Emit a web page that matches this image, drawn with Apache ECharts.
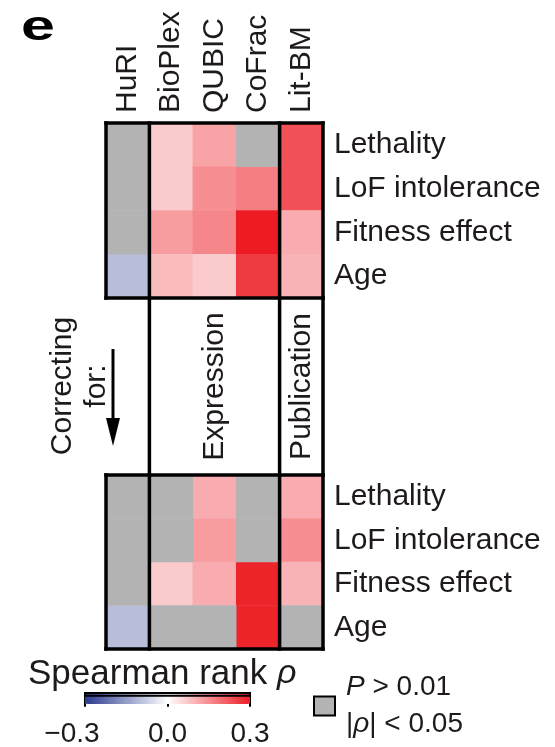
<!DOCTYPE html>
<html>
<head>
<meta charset="utf-8">
<script src="https://cdn.jsdelivr.net/npm/echarts@6/dist/echarts.min.js"></script>
<style>
  html, body { margin: 0; padding: 0; background: #fff; }
  #chart { width: 555px; height: 747px; }
</style>
</head>
<body>
<div id="chart"></div>
<script>
// networks (columns) and gene properties (rows)
var columns = ['HuRI', 'BioPlex', 'QUBIC', 'CoFrac', 'Lit-BM'];
var traits = ['Lethality', 'LoF intolerance', 'Fitness effect', 'Age'];
// Spearman rank rho, one row per trait; null = not significant (grey)
var rhoRaw = [
    [null, 0.07, 0.12, null, 0.23],
    [null, 0.07, 0.15, 0.17, 0.23],
    [null, 0.13, 0.16, 0.30, 0.11],
    [-0.10, 0.09, 0.07, 0.26, 0.10]
];
var rhoCorrected = [
    [null, null, 0.11, null, 0.11],
    [null, null, 0.13, null, 0.15],
    [null, 0.07, 0.11, 0.29, 0.10],
    [-0.10, null, null, 0.29, null]
];
// what was corrected for, by column span
var corrections = [
    {name: 'Expression', from: 1, to: 4},
    {name: 'Publication', from: 4, to: 5}
];
var groupEdges = [0, 1, 4, 5];
var scaleTicks = [-0.3, 0.0, 0.3];
var palette = ['#2b3a8f', '#ffffff', '#ed1c24'];
var greyCell = '#b3b3b3';
var nsName = 'not significant';

var font = 'Liberation Sans, Arial, Helvetica, sans-serif';
var ink = '#1e1a1b';

function cells(rho, sig) {
    var out = [];
    rho.forEach(function (row, r) {
        row.forEach(function (v, c) {
            if ((v !== null) === sig) out.push(sig ? [c, r, v] : [c, r, 1]);
        });
    });
    return out;
}

function segments(edges, closed) {
    var s = [];
    if (closed) {
        s.push([edges[0], 0, edges[edges.length - 1], 0]);
        s.push([edges[0], 1, edges[edges.length - 1], 1]);
    }
    edges.forEach(function (x) { s.push([x, 0, x, 1]); });
    return s;
}

function frame(idx, data) {
    return {
        type: 'custom', xAxisIndex: idx, yAxisIndex: idx, z: 10, silent: true,
        data: data,
        renderItem: function (params, api) {
            var a = api.coord([api.value(0), api.value(1)]);
            var b = api.coord([api.value(2), api.value(3)]);
            return {type: 'line', shape: {x1: a[0], y1: a[1], x2: b[0], y2: b[1]},
                style: {stroke: '#000', lineWidth: 3.5, lineCap: 'square'}};
        }
    };
}

var myChart = echarts.init(document.getElementById('chart'));

var hiddenX = {type: 'value', min: 0, max: 5, show: false};
var hiddenY = {type: 'value', min: 0, max: 1, show: false};

var option = {
    animation: false,
    backgroundColor: '#fff',
    grid: [
        {left: 106, top: 123, width: 217, height: 175},
        {left: 106, top: 298, width: 217, height: 177},
        {left: 106, top: 475, width: 217, height: 174},
        {left: 85, top: 693, width: 165, height: 11, show: true, z: 20,
            borderColor: '#000', borderWidth: 2, backgroundColor: 'transparent'}
    ],
    xAxis: [
        {type: 'category', gridIndex: 0, data: columns, position: 'top',
            axisLine: {show: false}, axisTick: {show: false},
            axisLabel: {rotate: 90, interval: 0, margin: 10, fontSize: 30, fontFamily: font, color: ink}},
        {type: 'category', gridIndex: 2, data: columns, show: false},
        Object.assign({gridIndex: 0}, hiddenX),
        Object.assign({gridIndex: 1}, hiddenX),
        Object.assign({gridIndex: 2}, hiddenX),
        {type: 'value', gridIndex: 3, min: scaleTicks[0], max: scaleTicks[2],
            interval: scaleTicks[2], position: 'bottom',
            axisLine: {show: false}, splitLine: {show: false},
            axisTick: {show: true, length: 11, lineStyle: {color: '#000', width: 2}},
            axisLabel: {margin: 25, fontSize: 28, fontFamily: font, color: ink,
                formatter: function (v) {
                    if (v < 0) return '{neg|\u2212' + Math.abs(v).toFixed(1) + '}';
                    return v.toFixed(1);
                },
                rich: {neg: {fontSize: 28, fontFamily: font, color: ink, padding: [0, 26, 0, 0]}}}}
    ],
    yAxis: [
        {type: 'category', gridIndex: 0, data: traits, inverse: true, position: 'right',
            axisLine: {show: false}, axisTick: {show: false},
            axisLabel: {margin: 11, fontSize: 30, fontFamily: font, color: ink}},
        {type: 'category', gridIndex: 2, data: traits, inverse: true, position: 'right',
            axisLine: {show: false}, axisTick: {show: false},
            axisLabel: {margin: 11, fontSize: 30, fontFamily: font, color: ink}},
        Object.assign({gridIndex: 0}, hiddenY),
        Object.assign({gridIndex: 1}, hiddenY),
        Object.assign({gridIndex: 2}, hiddenY),
        {type: 'value', gridIndex: 3, show: false}
    ],
    visualMap: {
        type: 'continuous', seriesIndex: [0, 1],
        min: scaleTicks[0], max: scaleTicks[2],
        orient: 'horizontal', left: 85, top: 693, padding: 0,
        itemWidth: 11, itemHeight: 165, calculable: false, hoverLink: false,
        text: null, showLabel: false,
        inRange: {color: palette}
    },
    legend: {
        data: [nsName], left: 313, top: 669, padding: 0,
        icon: 'rect', itemWidth: 21, itemHeight: 19, selectedMode: false,
        itemStyle: {borderColor: '#000', borderWidth: 2},
        formatter: function () { return '{i|P} > 0.01\n|{i|\u03c1}| < 0.05'; },
        textStyle: {fontSize: 28, fontFamily: font, color: ink, lineHeight: 37, padding: [0, 0, 0, 6],
            rich: {i: {fontStyle: 'italic', fontSize: 28, fontFamily: font, color: ink}}}
    },
    graphic: [
        {type: 'text', x: 38, y: 28, scaleX: 1.45,
            style: {text: 'e', font: 'bold 42px ' + font, fill: '#000', align: 'center', verticalAlign: 'middle'}},
        {type: 'text', x: 80, y: 386, rotation: Math.PI / 2,
            style: {text: 'Correcting\nfor:', font: '30px ' + font, fill: ink, lineHeight: 34,
                align: 'center', verticalAlign: 'middle'}},
        {type: 'line', shape: {x1: 113, y1: 349, x2: 113, y2: 422},
            style: {stroke: '#000', lineWidth: 3}},
        {type: 'polygon', shape: {points: [[106, 418], [120, 418], [113, 446]]},
            style: {fill: '#000'}},
        {type: 'text', x: 28, y: 674,
            style: {text: '{a|Spearman rank }{b|\u03c1}', verticalAlign: 'middle',
                rich: {a: {font: '35px ' + font, fill: ink},
                       b: {font: 'italic 34px ' + font, fill: ink}}}}
    ],
    series: [
        {type: 'heatmap', xAxisIndex: 0, yAxisIndex: 0, data: cells(rhoRaw, true),
            itemStyle: {borderWidth: 0}, emphasis: {disabled: true}},
        {type: 'heatmap', xAxisIndex: 1, yAxisIndex: 1, data: cells(rhoCorrected, true),
            itemStyle: {borderWidth: 0}, emphasis: {disabled: true}},
        {type: 'heatmap', name: nsName, xAxisIndex: 0, yAxisIndex: 0, data: cells(rhoRaw, false),
            itemStyle: {color: greyCell, borderWidth: 0}, emphasis: {disabled: true}},
        {type: 'heatmap', name: nsName, xAxisIndex: 1, yAxisIndex: 1, data: cells(rhoCorrected, false),
            itemStyle: {color: greyCell, borderWidth: 0}, emphasis: {disabled: true}},
        frame(2, segments(groupEdges, true)),
        frame(3, segments(groupEdges.slice(1), false)),
        frame(4, segments(groupEdges, true)),
        {type: 'custom', xAxisIndex: 3, yAxisIndex: 3, z: 10, silent: true,
            data: corrections.map(function (g) { return [(g.from + g.to) / 2, 0.5]; }),
            renderItem: function (params, api) {
                var p = api.coord([api.value(0), api.value(1)]);
                return {type: 'text', x: p[0], y: p[1], rotation: Math.PI / 2,
                    style: {text: corrections[params.dataIndex].name, font: '30px ' + font,
                        fill: ink, align: 'center', verticalAlign: 'middle'}};
            }}
    ]
};

myChart.setOption(option);
</script>
</body>
</html>
